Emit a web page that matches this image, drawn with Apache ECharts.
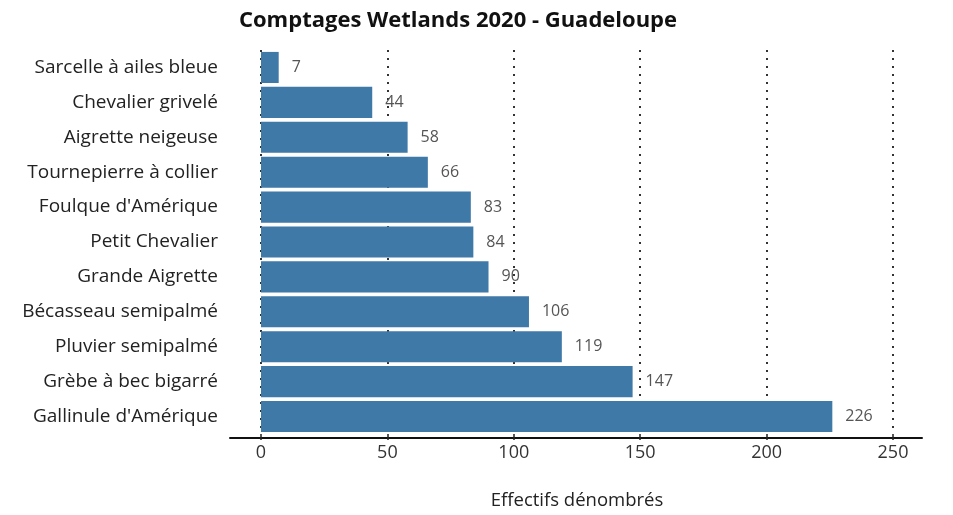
<!DOCTYPE html>
<html><head><meta charset="utf-8">
<script src="https://cdn.jsdelivr.net/npm/echarts@6/dist/echarts.min.js"></script>
<style>html,body{margin:0;padding:0;background:#fff}#c{width:953px;height:515px}</style>
</head><body><div id="c"></div>
<script>
const categories = ["Sarcelle à ailes bleue","Chevalier grivelé","Aigrette neigeuse","Tournepierre à collier","Foulque d'Amérique","Petit Chevalier","Grande Aigrette","Bécasseau semipalmé","Pluvier semipalmé","Grèbe à bec bigarré","Gallinule d'Amérique"];
const values = [7,44,58,66,83,84,90,106,119,147,226];
const xTicks = [0,50,100,150,200,250];

const chart = echarts.init(document.getElementById('c'));
const font = "Open Sans";
chart.setOption({
  animation:false,
  title:{text:"Comptages Wetlands 2020 - Guadeloupe",left:453,textAlign:'center',top:5,
    textStyle:{fontFamily:font,fontSize:22,fontWeight:'bold',color:'#111'}},
  grid:[{left:261,right:60,top:50,bottom:77},{left:230,right:31,top:50,bottom:77}],
  xAxis:[{gridIndex:0,type:'value',min:xTicks[0],max:xTicks[xTicks.length-1],interval:50,
    axisLine:{show:false},
    axisTick:{show:true,length:6,lineStyle:{color:'#222',width:1.5}},
    axisLabel:{fontFamily:font,fontSize:18,color:'#333',margin:10},
    splitLine:{show:true,lineStyle:{type:[2,6],color:'#333',width:2}},
    name:"Effectifs dénombrés",nameLocation:'middle',nameGap:57,
    nameTextStyle:{fontFamily:font,fontSize:18.5,color:'#222'}},
   {gridIndex:1,type:'value',min:0,max:1,axisLine:{show:true,lineStyle:{color:'#111',width:2}},
    axisTick:{show:false},axisLabel:{show:false},splitLine:{show:false}}],
  yAxis:[{gridIndex:0,type:'category',data:categories,inverse:true,
    axisLine:{show:false},axisTick:{show:false},
    axisLabel:{fontFamily:font,fontSize:19,color:'#222',margin:43}},
    {gridIndex:1,type:'value',show:false}],
  series:[{type:'bar',data:values,xAxisIndex:0,yAxisIndex:0,barCategoryGap:'11%',
    itemStyle:{color:'#3f79a8'},
    label:{show:true,position:'right',distance:13,fontFamily:font,fontSize:16,color:'#555'}}]
});
</script></body></html>
